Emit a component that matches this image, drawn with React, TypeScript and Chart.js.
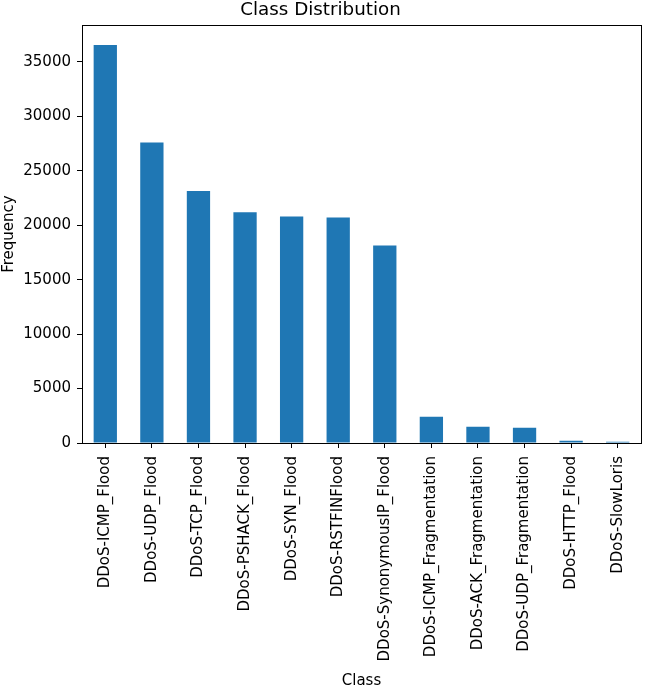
import React, { useEffect, useRef } from "react";
import { Chart, registerables } from "chart.js";

Chart.register(...registerables);

const categories = [
  "DDoS-ICMP_Flood",
  "DDoS-UDP_Flood",
  "DDoS-TCP_Flood",
  "DDoS-PSHACK_Flood",
  "DDoS-SYN_Flood",
  "DDoS-RSTFINFlood",
  "DDoS-SynonymousIP_Flood",
  "DDoS-ICMP_Fragmentation",
  "DDoS-ACK_Fragmentation",
  "DDoS-UDP_Fragmentation",
  "DDoS-HTTP_Flood",
  "DDoS-SlowLoris",
];

const frequencies = [36550, 27600, 23150, 21200, 20800, 20700, 18150, 2420, 1500, 1400, 200, 110];

const yTicks = [0, 5000, 10000, 15000, 20000, 25000, 30000, 35000];

const FONT = "'DejaVu Sans', sans-serif";
const TICK_SIZE = 15;

const frameBox = {
  id: "frameBox",
  afterDraw(chart: any) {
    const { ctx, chartArea } = chart;
    ctx.save();
    ctx.strokeStyle = "#000";
    ctx.lineWidth = 1;
    ctx.strokeRect(
      Math.round(chartArea.left) + 0.5,
      Math.round(chartArea.top) + 0.5,
      Math.round(chartArea.right - chartArea.left),
      Math.round(chartArea.bottom - chartArea.top)
    );
    ctx.restore();
  },
};

export default function App() {
  const ref = useRef<HTMLCanvasElement>(null);

  useEffect(() => {
    if (!ref.current) return;
    const yMax = Math.max(...frequencies) * 1.05;
    const chart = new Chart(ref.current, {
      type: "bar",
      data: {
        labels: categories,
        datasets: [
          {
            label: "Frequency",
            data: frequencies,
            backgroundColor: "#1f77b4",
            borderWidth: 0,
            categoryPercentage: 1,
            barPercentage: 0.5,
          },
        ],
      },
      options: {
        animation: false,
        responsive: false,
        maintainAspectRatio: false,
        layout: { padding: { left: 0, right: 4, top: 0, bottom: 0 } },
        plugins: {
          legend: { display: false },
          tooltip: { enabled: false },
          title: {
            display: true,
            text: "Class Distribution",
            color: "#000",
            font: { family: FONT, size: 18.3, weight: "normal", lineHeight: 1.1 },
            padding: { top: 0, bottom: 5 },
          },
        },
        scales: {
          x: {
            offset: true,
            grid: {
              display: true,
              drawOnChartArea: false,
              drawTicks: true,
              tickLength: 5,
              tickColor: "#000",
              offset: false,
            },
            border: { color: "#000" },
            ticks: {
              color: "#000",
              font: { family: FONT, size: TICK_SIZE },
              maxRotation: 90,
              minRotation: 90,
              autoSkip: false,
              padding: 8,
            },
            title: {
              display: true,
              text: "Class",
              color: "#000",
              font: { family: FONT, size: TICK_SIZE },
              padding: { top: 0, bottom: -2 },
            },
            afterFit(scale: any) {
              scale.height = 245;
            },
          },
          y: {
            min: 0,
            max: yMax,
            grid: {
              display: true,
              drawOnChartArea: false,
              drawTicks: true,
              tickLength: 5,
              tickColor: "#000",
            },
            border: { color: "#000" },
            ticks: {
              color: "#000",
              font: { family: FONT, size: TICK_SIZE },
              padding: 6,
              callback: (v: any) => String(v),
            },
            afterBuildTicks(axis: any) {
              axis.ticks = yTicks.map((v) => ({ value: v }));
            },
            title: {
              display: true,
              text: "Frequency",
              color: "#000",
              font: { family: FONT, size: TICK_SIZE },
              padding: { top: 0, bottom: 0 },
            },
            afterFit(scale: any) {
              scale.width = 82;
            },
          },
        },
      },
      plugins: [frameBox],
    });
    return () => chart.destroy();
  }, []);

  return (
    <div style={{ position: "fixed", left: 0, top: 0, width: 645, height: 688, background: "#fff" }}>
      <canvas ref={ref} width={645} height={688} style={{ display: "block" }} />
    </div>
  );
}
